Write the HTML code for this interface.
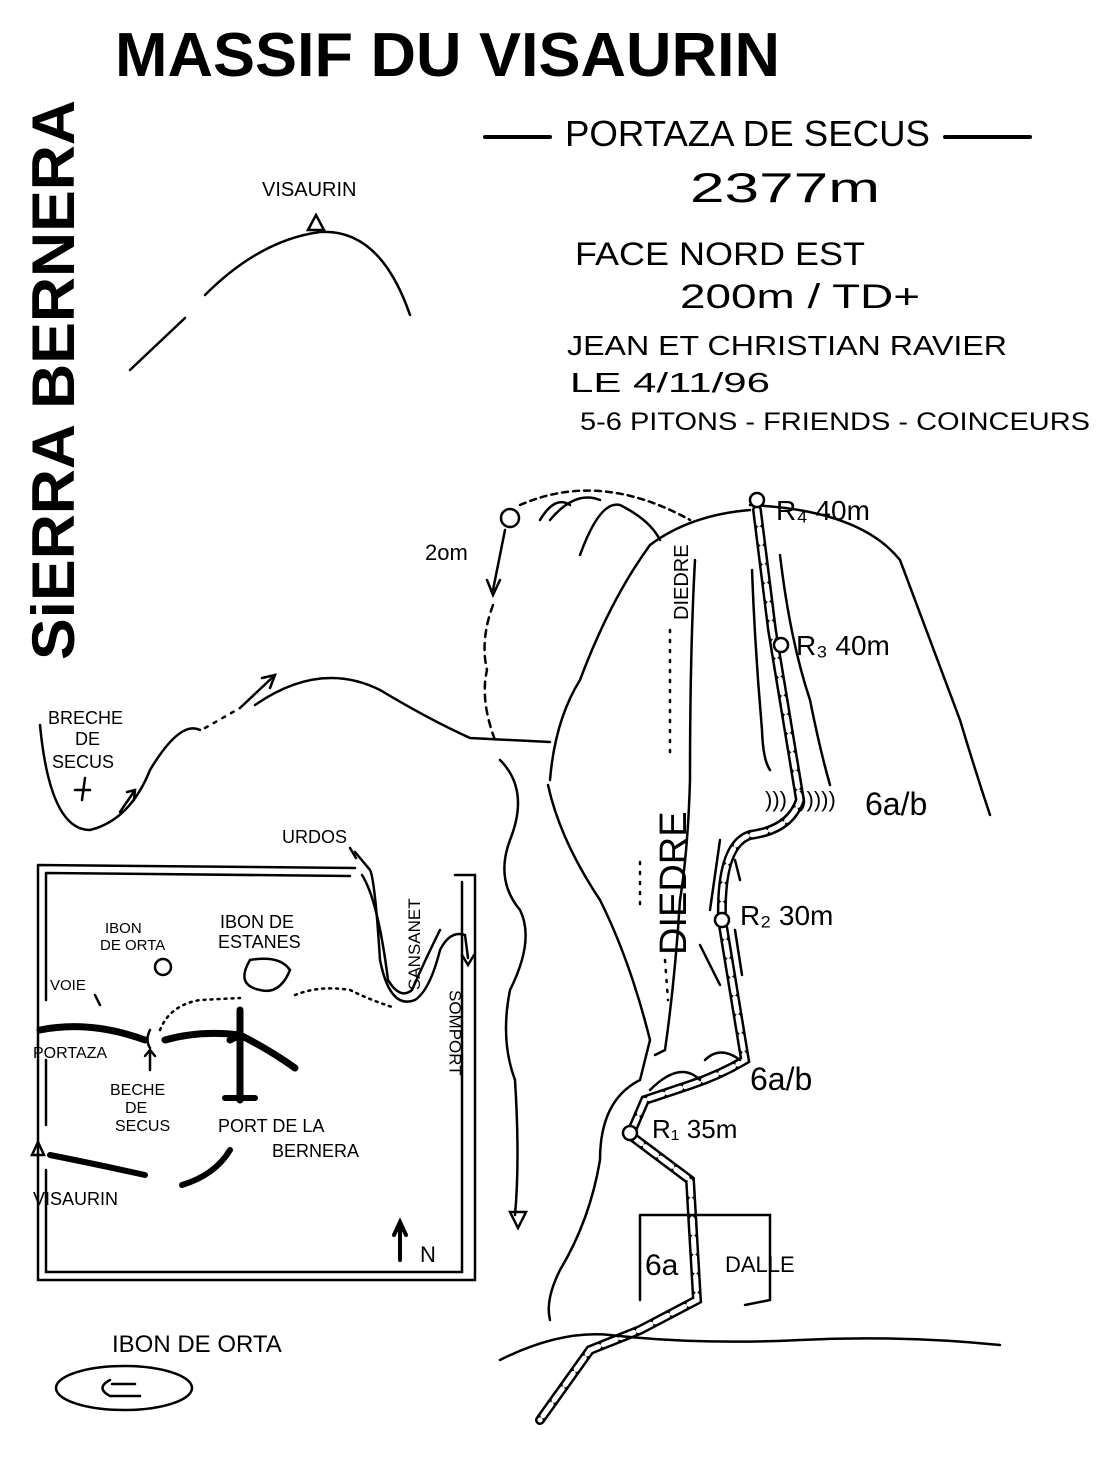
<!DOCTYPE html>
<html><head><meta charset="utf-8"><style>
html,body{margin:0;padding:0;background:#fff}
svg{display:block}
text{font-family:"Liberation Sans",sans-serif;fill:#000}
</style></head><body>
<svg width="1107" height="1476" viewBox="0 0 1107 1476" xmlns="http://www.w3.org/2000/svg" fill="none" stroke="#000" stroke-width="2.5" stroke-linecap="round">
<!-- title -->
<text x="115" y="76" font-size="62" font-weight="bold" stroke="none" textLength="665" lengthAdjust="spacingAndGlyphs">MASSIF DU VISAURIN</text>
<text transform="translate(74,660) rotate(-90)" font-size="60" font-weight="bold" stroke="none" textLength="560" lengthAdjust="spacingAndGlyphs">SiERRA BERNERA</text>
<!-- header -->
<line x1="485" y1="137" x2="550" y2="137" stroke-width="4"/>
<line x1="945" y1="137" x2="1030" y2="137" stroke-width="4"/>
<text x="565" y="146" font-size="36" stroke="none" textLength="365" lengthAdjust="spacingAndGlyphs">PORTAZA DE SECUS</text>
<text x="690" y="202" font-size="42" stroke="none" textLength="190" lengthAdjust="spacingAndGlyphs">2377m</text>
<text x="575" y="265" font-size="32" stroke="none" textLength="290" lengthAdjust="spacingAndGlyphs">FACE NORD EST</text>
<text x="680" y="308" font-size="34" stroke="none" textLength="240" lengthAdjust="spacingAndGlyphs">200m / TD+</text>
<text x="567" y="355" font-size="28" stroke="none" textLength="440" lengthAdjust="spacingAndGlyphs">JEAN ET CHRISTIAN RAVIER</text>
<text x="570" y="392" font-size="28" stroke="none" textLength="200" lengthAdjust="spacingAndGlyphs">LE 4/11/96</text>
<text x="580" y="430" font-size="25" stroke="none" textLength="510" lengthAdjust="spacingAndGlyphs">5-6 PITONS - FRIENDS - COINCEURS</text>
<!-- visaurin peak -->
<text x="262" y="196" font-size="20" stroke="none">VISAURIN</text>
<path d="M308,230 L316,215 L324,230 Z"/>
<path d="M130,370 L185,318"/><path d="M205,295 Q260,240 320,232 Q380,228 410,315"/>
<!-- breche de secus hill -->
<path d="M40,725 Q50,830 90,830 Q130,820 150,770 Q180,720 200,730"/>
<path d="M205,728 L240,708" stroke-dasharray="3,7"/>
<path d="M240,708 L275,675"/><path d="M262,678 L275,675 L270,688"/>
<path d="M255,705 Q320,660 380,690 Q430,720 470,738 L550,742"/>
<text x="48" y="724" font-size="18" stroke="none">BRECHE</text>
<text x="75" y="745" font-size="18" stroke="none">DE</text>
<text x="52" y="768" font-size="18" stroke="none">SECUS</text>
<path d="M85,778 L82,800 M75,790 L90,790"/>
<path d="M120,812 L135,790 M127,792 L135,790 L134,800"/>
<!-- rappel -->
<circle cx="510" cy="518" r="9"/>
<path d="M520,505 Q600,470 690,520" stroke-dasharray="6,5"/>
<path d="M505,530 L493,590" /><path d="M487,580 L493,595 L500,580"/>
<text x="425" y="560" font-size="22" stroke="none">2om</text>
<path d="M493,605 Q480,640 487,670 Q480,700 495,740" stroke-dasharray="7,6"/>
<path d="M540,520 Q555,495 570,505 M550,520 Q575,490 600,500 M580,555 Q600,500 620,505 Q650,520 660,540"/>
<path d="M500,760 Q530,790 510,840 Q495,880 520,910 Q535,940 510,990 Q500,1040 515,1080 Q520,1160 515,1215"/>
<path d="M510,1212 L518,1228 L526,1212 Z"/>
<!-- main face -->
<path d="M750,510 Q690,515 650,545 Q610,600 580,680 Q555,720 550,780"/>
<path d="M750,505 Q860,510 900,560 Q930,640 960,720 Q975,770 990,815"/>
<path d="M548,785 Q560,840 600,900 Q630,960 650,1040 L640,1080 Q600,1100 600,1160 Q590,1220 560,1270 Q545,1300 550,1320"/>
<path d="M695,560 Q690,650 690,780 Q688,850 680,900 Q675,980 665,1050 L655,1055"/>
<path d="M780,555 Q790,640 810,700 Q820,750 830,785"/>
<path d="M752,570 Q755,650 762,730 Q763,760 770,770"/>
<path d="M720,840 L710,910 M735,860 L740,880 M700,945 L720,985 M735,930 L742,975"/>
<text transform="translate(688,620) rotate(-90)" font-size="20" stroke="none">DIEDRE</text>
<text transform="translate(686,955) rotate(-90)" font-size="38" stroke="none">DIEDRE</text>
<path d="M670,630 L670,760" stroke-dasharray="2,8"/>
<path d="M665,960 L668,1000" stroke-dasharray="2,8"/>
<path d="M640,862 L640,905" stroke-dasharray="2,8"/>
<!-- route -->
<path d="M757,510 L772,630 L800,800 Q790,830 750,835 Q720,845 722,920 L745,1060 Q720,1075 690,1085 Q660,1095 645,1100 L630,1135 L690,1180 L697,1300 L640,1330 L590,1350 L540,1420" stroke-width="10"/>
<path d="M757,510 L772,630 L800,800 Q790,830 750,835 Q720,845 722,920 L745,1060 Q720,1075 690,1085 Q660,1095 645,1100 L630,1135 L690,1180 L697,1300 L640,1330 L590,1350 L540,1420" stroke-width="5" stroke="#fff" stroke-dasharray="14,5"/>
<circle cx="757" cy="500" r="7" fill="#fff"/>
<circle cx="781" cy="645" r="7" fill="#fff"/>
<circle cx="722" cy="920" r="7" fill="#fff"/>
<circle cx="630" cy="1133" r="7" fill="#fff"/>
<text x="776" y="520" font-size="28" stroke="none">R₄ 40m</text>
<text x="796" y="655" font-size="28" stroke="none">R₃ 40m</text>
<text x="740" y="925" font-size="28" stroke="none">R₂ 30m</text>
<text x="652" y="1138" font-size="26" stroke="none">R₁ 35m</text>
<text x="865" y="815" font-size="32" stroke="none">6a/b</text>
<text x="750" y="1090" font-size="32" stroke="none">6a/b</text>
<text x="765" y="807" font-size="22" stroke="none">)))&#160;&#160;)))))</text>
<path d="M650,1090 Q680,1060 700,1080 M705,1060 Q720,1045 740,1060"/>
<path d="M640,1215 L770,1215 L770,1300 L745,1305 M640,1215 L640,1300"/>
<text x="645" y="1275" font-size="30" stroke="none">6a</text>
<text x="725" y="1272" font-size="22" stroke="none">DALLE</text>
<path d="M500,1360 Q560,1330 610,1335 Q700,1345 800,1340 Q900,1335 1000,1345"/>
<!-- inset map -->
<path d="M38,865 L38,1280 L475,1280 L475,875 L455,875 M38,865 L355,868"/>
<path d="M46,873 L46,1000 M46,1060 L46,1125 M46,873 L350,876 M462,882 L462,1272 L46,1272 L46,1170"/>
<text x="282" y="843" font-size="18" stroke="none">URDOS</text>
<path d="M355,852 L370,870 Q375,880 380,960 Q390,1010 415,1000 Q430,990 440,950 Q450,930 465,935 L468,958"/>
<path d="M362,875 Q378,900 388,980 Q400,1000 412,990 Q425,960 440,930"/>
<path d="M350,848 L356,858 M462,955 L468,965 L474,955"/>
<text transform="translate(420,990) rotate(-90)" font-size="17" stroke="none">SANSANET</text>
<text x="455" y="990" font-size="17" stroke="none" writing-mode="tb">SOMPORT</text>
<text x="105" y="933" font-size="15" stroke="none">IBON</text>
<text x="100" y="950" font-size="15" stroke="none">DE ORTA</text>
<circle cx="163" cy="967" r="8"/>
<text x="220" y="928" font-size="18" stroke="none">IBON DE</text>
<text x="218" y="948" font-size="18" stroke="none">ESTANES</text>
<path d="M250,960 Q280,955 290,970 Q280,995 260,990 Q235,985 250,960 Z"/>
<text x="50" y="990" font-size="15" stroke="none">VOIE</text>
<path d="M95,995 L100,1005"/>
<path d="M160,1030 Q170,1005 200,1000 L240,998" stroke-dasharray="2,5"/>
<path d="M295,995 Q320,985 350,990 Q370,1000 395,1008" stroke-dasharray="2,5"/>
<path d="M40,1030 Q90,1020 145,1040" stroke-width="7"/>
<path d="M165,1040 Q200,1030 240,1035 Q270,1050 295,1068 M240,1010 L240,1100 M240,1035 L230,1040" stroke-width="7"/>
<path d="M225,1098 L255,1098" stroke-width="6"/>
<path d="M150,1030 Q145,1040 150,1048"/>
<text x="33" y="1058" font-size="16" stroke="none">PORTAZA</text>
<path d="M150,1070 L150,1050 M145,1056 L150,1050 L155,1056"/>
<text x="110" y="1095" font-size="16" stroke="none">BECHE</text>
<text x="125" y="1113" font-size="16" stroke="none">DE</text>
<text x="115" y="1131" font-size="16" stroke="none">SECUS</text>
<text x="218" y="1132" font-size="18" stroke="none">PORT DE LA</text>
<text x="272" y="1157" font-size="18" stroke="none">BERNERA</text>
<path d="M182,1185 Q215,1175 230,1150" stroke-width="6"/>
<path d="M50,1155 Q100,1165 145,1175" stroke-width="6"/>
<path d="M32,1155 L38,1142 L44,1155 Z"/>
<text x="33" y="1205" font-size="18" stroke="none">VISAURIN</text>
<path d="M400,1260 L400,1225 M394,1235 L400,1222 L406,1235" stroke-width="4"/>
<text x="420" y="1262" font-size="22" stroke="none">N</text>
<!-- ibon de orta -->
<text x="112" y="1352" font-size="24" stroke="none">IBON DE ORTA</text>
<ellipse cx="124" cy="1388" rx="68" ry="22"/>
<path d="M110,1380 Q95,1388 110,1396 L140,1396 M112,1384 L135,1384"/>
</svg>
</body></html>
